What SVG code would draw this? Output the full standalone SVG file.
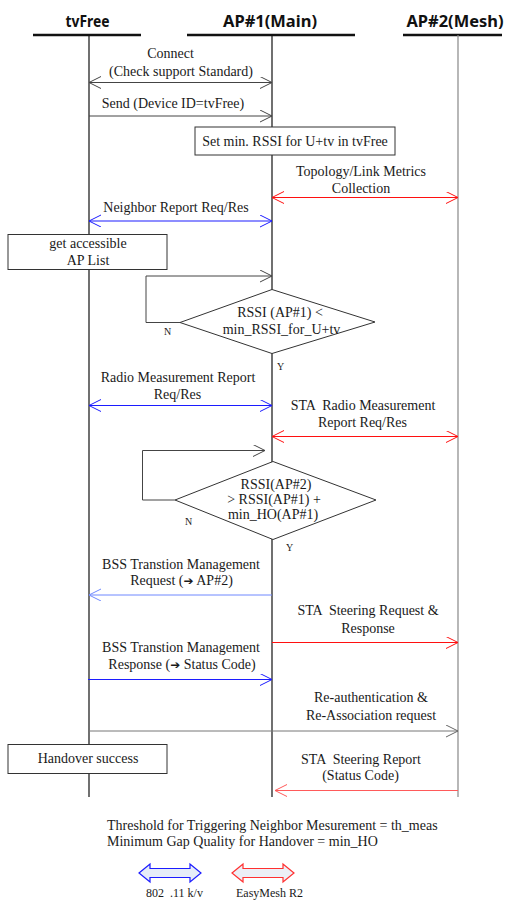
<svg xmlns="http://www.w3.org/2000/svg" width="527" height="908" viewBox="0 0 527 908">
<style>
text{font-family:"Liberation Serif","Times New Roman",serif;font-size:14px;fill:#1a1a1a;white-space:pre}
.t{font-family:"Noto Sans","Open Sans","Liberation Sans",sans-serif;font-size:15.5px;font-weight:bold;fill:#111}
.c{text-anchor:middle}
.s{font-size:10px}
.l{font-size:12px}
.ar{font-family:"DejaVu Sans",sans-serif;font-size:12px}
.hd{stroke:#111;stroke-width:2.6}
.ll{stroke:#111;stroke-width:1.2;fill:none}
.box{fill:#fff;stroke:#333;stroke-width:1}
.dm{fill:#fff;stroke:#333;stroke-width:1}
.k{stroke:#444;stroke-width:1;fill:none}
.g{stroke:#777;stroke-width:1;fill:none}
.b{stroke:#1c1cff;stroke-width:1.2;fill:none}
.lb{stroke:#6f88ff;stroke-width:1;fill:none}
.r{stroke:#ff1010;stroke-width:1.2;fill:none}
.lr{stroke:#ff5a5a;stroke-width:1;fill:none}
</style>
<defs>
<marker id="mk" markerUnits="userSpaceOnUse" markerWidth="14" markerHeight="14" refX="12" refY="6" orient="auto-start-reverse"><path d="M0,0 L12,6 L0,12" fill="none" stroke="#444" stroke-width="1"/></marker>
<marker id="mg" markerUnits="userSpaceOnUse" markerWidth="14" markerHeight="14" refX="12" refY="6" orient="auto-start-reverse"><path d="M0,0 L12,6 L0,12" fill="none" stroke="#666" stroke-width="1"/></marker>
<marker id="mb" markerUnits="userSpaceOnUse" markerWidth="14" markerHeight="14" refX="12" refY="6" orient="auto-start-reverse"><path d="M0,0 L12,6 L0,12" fill="none" stroke="#1c1cff" stroke-width="1"/></marker>
<marker id="mlb" markerUnits="userSpaceOnUse" markerWidth="14" markerHeight="14" refX="12" refY="6" orient="auto-start-reverse"><path d="M0,0 L12,6 L0,12" fill="none" stroke="#6f88ff" stroke-width="1"/></marker>
<marker id="mr" markerUnits="userSpaceOnUse" markerWidth="14" markerHeight="14" refX="12" refY="6" orient="auto-start-reverse"><path d="M0,0 L12,6 L0,12" fill="none" stroke="#ff1010" stroke-width="1"/></marker>
<marker id="mlr" markerUnits="userSpaceOnUse" markerWidth="14" markerHeight="14" refX="12" refY="6" orient="auto-start-reverse"><path d="M0,0 L12,6 L0,12" fill="none" stroke="#ff5a5a" stroke-width="1"/></marker>
</defs>

<g id="tvFree">
<text class="t c" x="87.5" y="27" textLength="44" lengthAdjust="spacingAndGlyphs">tvFree</text>
<line class="hd" x1="33" y1="35" x2="141" y2="35"/>
<line class="ll" x1="89" y1="35" x2="89" y2="797"/>
</g>
<g id="ap1">
<text class="t c" x="270" y="27" textLength="94" lengthAdjust="spacingAndGlyphs">AP#1(Main)</text>
<line class="hd" x1="187" y1="35" x2="355" y2="35"/>
<line class="ll" x1="272" y1="35" x2="272" y2="797"/>
</g>
<g id="ap2">
<text class="t c" x="455" y="27" textLength="97" lengthAdjust="spacingAndGlyphs">AP#2(Mesh)</text>
<line class="hd" x1="403" y1="35" x2="502" y2="35"/>
<line x1="458" y1="35" x2="458" y2="797" stroke="#888" stroke-width="1.2"/>
</g>

<g id="connectors">
<line class="k" x1="89" y1="82.5" x2="272" y2="82.5" marker-start="url(#mk)" marker-end="url(#mk)"/>
<line class="k" x1="89" y1="116" x2="272" y2="116" marker-end="url(#mk)"/>
<line class="r" x1="272" y1="197.5" x2="458" y2="197.5" marker-start="url(#mr)" marker-end="url(#mr)"/>
<line class="b" x1="89" y1="221" x2="272" y2="221" marker-start="url(#mb)" marker-end="url(#mb)"/>
<polyline class="k" points="180,322.5 146,322.5 146,276 272,276" marker-end="url(#mk)"/>
<line class="b" x1="89" y1="405.5" x2="272" y2="405.5" marker-start="url(#mb)" marker-end="url(#mb)"/>
<line class="r" x1="272" y1="436.5" x2="458" y2="436.5" marker-start="url(#mr)" marker-end="url(#mr)"/>
<polyline class="k" points="175,500 142.5,500 142.5,450.5 265,450.5" marker-end="url(#mk)"/>
<line class="lb" x1="272" y1="595" x2="89" y2="595" marker-end="url(#mlb)"/>
<line class="r" x1="272" y1="642.5" x2="458" y2="642.5" marker-end="url(#mr)"/>
<line class="b" x1="88" y1="679.5" x2="272" y2="679.5" marker-end="url(#mb)"/>
<line class="g" x1="89" y1="731" x2="458" y2="731" marker-end="url(#mg)"/>
<line class="lr" x1="458" y1="790.5" x2="275" y2="790.5" marker-end="url(#mlr)"/>
</g>

<g id="msg-labels">
<text class="c" x="170.5" y="57.5">Connect</text>
<text class="c" x="181" y="76">(Check support Standard)</text>
<text class="c" x="173" y="108">Send (Device ID=tvFree)</text>
<text class="c" x="361" y="176">Topology/Link Metrics</text>
<text class="c" x="361" y="192.5">Collection</text>
<text class="c" x="176" y="212">Neighbor Report Req/Res</text>
<text class="c" x="178" y="381.5">Radio Measurement Report</text>
<text class="c" x="177.5" y="399">Req/Res</text>
<text class="c" x="363" y="410">STA  Radio Measurement</text>
<text class="c" x="362.5" y="426.5">Report Req/Res</text>
<text class="c" x="181" y="568.5">BSS Transtion Management</text>
<text class="c" x="181.5" y="585">Request (<tspan class="ar">➔</tspan> AP#2)</text>
<text class="c" x="368" y="615">STA  Steering Request &amp;</text>
<text class="c" x="368" y="632.5">Response</text>
<text class="c" x="181" y="652">BSS Transtion Management</text>
<text class="c" x="182" y="669">Response (<tspan class="ar">➔</tspan> Status Code)</text>
<text class="c" x="371" y="702">Re-authentication &amp;</text>
<text class="c" x="371" y="719.5">Re-Association request</text>
<text class="c" x="361" y="763.5">STA  Steering Report</text>
<text class="c" x="360.5" y="779.5">(Status Code)</text>
</g>

<g id="set-rssi">
<rect class="box" x="195" y="127" width="200" height="28"/>
<text class="c" x="295" y="146">Set min. RSSI for U+tv in tvFree</text>
</g>
<g id="get-ap-list">
<rect class="box" x="8" y="234.5" width="159" height="35"/>
<text class="c" x="88" y="248">get accessible</text>
<text class="c" x="88" y="264.5">AP List</text>
</g>
<g id="decision1">
<polygon class="dm" points="272,289.5 375,322 272,353.5 180,322.5"/>
<text class="c" x="280" y="317">RSSI (AP#1) &lt;</text>
<text class="c" x="281.5" y="334">min_RSSI_for_U+tv</text>
<text class="s" x="164" y="335">N</text>
<text class="s" x="277" y="370">Y</text>
</g>
<g id="decision2">
<polygon class="dm" points="273,461.5 376,500 273,539.5 175,500"/>
<text class="c" x="276" y="488.5">RSSI(AP#2)</text>
<text class="c" x="274" y="504">&gt; RSSI(AP#1) +</text>
<text class="c" x="273" y="518.5">min_HO(AP#1)</text>
<text class="s" x="185" y="525">N</text>
<text class="s" x="286" y="551">Y</text>
</g>
<g id="handover">
<rect class="box" x="8" y="744.5" width="159" height="29"/>
<text class="c" x="88" y="763">Handover success</text>
</g>

<g id="notes">
<text x="107" y="829.5">Threshold for Triggering Neighbor Mesurement = th_meas</text>
<text x="107" y="846">Minimum Gap Quality for Handover = min_HO</text>
</g>
<g id="legend">
<polygon points="139,873 150,864 150,868.5 190,868.5 190,864 201,873 190,882 190,877.5 150,877.5 150,882" fill="#e6edf8" stroke="#1c1cff" stroke-width="1.2"/>
<polygon points="232,873 243,864 243,868.5 283,868.5 283,864 294,873 283,882 283,877.5 243,877.5 243,882" fill="#eceff6" stroke="#ff3030" stroke-width="1.2"/>
<text class="l" x="146" y="897">802  .11 k/v</text>
<text class="l" x="236" y="897">EasyMesh R2</text>
</g>
</svg>
